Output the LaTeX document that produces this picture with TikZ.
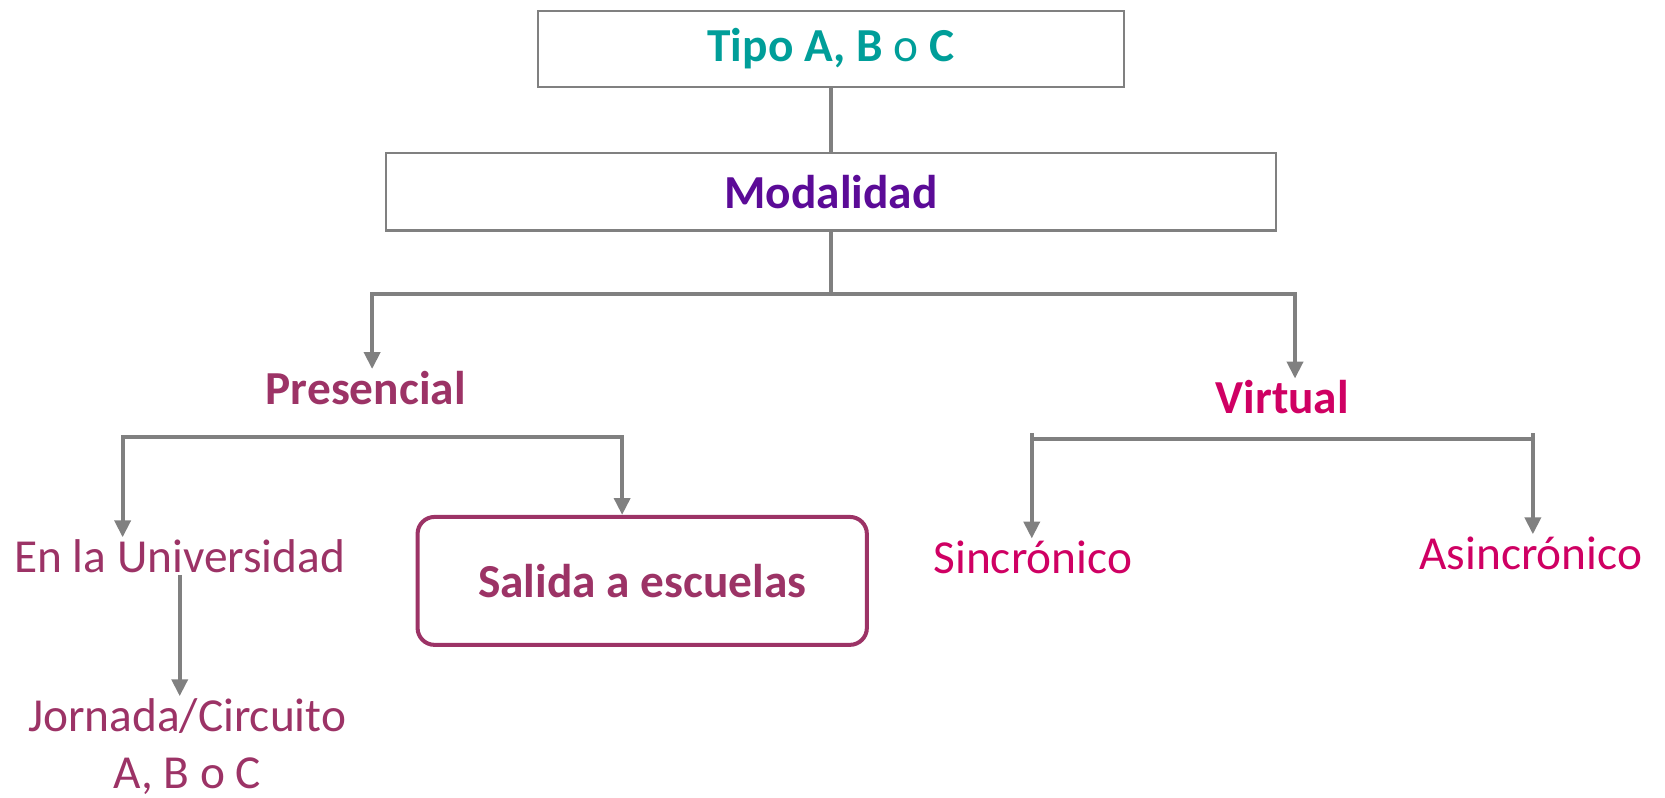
\documentclass[tikz,border=0pt]{standalone}
\usepackage{fontspec}
\setmainfont{Carlito}
\usetikzlibrary{arrows.meta}
\definecolor{verdeTipo}{HTML}{009E99}
\definecolor{moradoMod}{HTML}{5B0B97}
\definecolor{granate}{HTML}{9C3366}
\definecolor{fucsia}{HTML}{CF0063}
\definecolor{grisLinea}{HTML}{808080}
\begin{document}
\begin{tikzpicture}[x=0.5pt, y=-0.5pt]
		\tikzset{caja/.style={draw=grisLinea, line width=1pt, inner sep=0, font=\fontsize{22.4pt}{27pt}\selectfont\bfseries},
		texto/.style={inner sep=0, outer sep=1pt, font=\fontsize{22.4pt}{27pt}\selectfont},
		linea/.style={draw=grisLinea, line width=1.9pt},
		flecha/.style={linea, -{Triangle[width=7.5pt, length=8pt]}}}
        \useasboundingbox (0,0) rectangle (1575,754);

        \node[caja, minimum width=277pt, minimum height=36pt, text=verdeTipo] at (786,46) (tipo) {Tipo A, B \mdseries o \bfseries C};
        \node[caja, minimum width=421pt, minimum height=36.5pt, text=moradoMod] at (786,181.5) (mod) {Modalidad};

        \node[texto, font=\fontsize{22.4pt}{27pt}\selectfont\bfseries, text=granate] at (346,367) (pres) {Presencial};
        \node[texto, font=\fontsize{22.4pt}{27pt}\selectfont\bfseries, text=fucsia] at (1213,376) (virt) {Virtual};

        \node[texto, text=granate] at (170,526) (uni) {En la Universidad};
        \node[texto, text=granate, align=center] at (177,706) (jorn) {Jornada/Circuito\\A, B o C};
        \node[draw=granate, line width=1.9pt, rounded corners=8pt, minimum width=212.5pt, minimum height=60.5pt,
              inner sep=0, text=granate, font=\fontsize{22.4pt}{27pt}\selectfont\bfseries] at (607.5,549.5) (sal) {Salida a escuelas};

        \node[texto, text=fucsia] at (977,527) (sinc) {Sincrónico};
        \node[texto, text=fucsia] at (1448,523) (asinc) {Asincrónico};

        \coordinate (m1) at (786,278);
        \coordinate (pb) at (352,413);
        \coordinate (vi) at (976,415);
        \coordinate (vd) at (1450,415);

			\draw [linea] (tipo) -- (mod);
			\draw [linea] (mod) -- (m1);
			\draw [flecha] (m1) -| ([xshift=3pt]pres.north);
			\draw [flecha] (m1) -| ([xshift=6pt]virt.north);

			% Presencial
			\draw [flecha] (pb) -| ([xshift=-27pt]uni.north);
			\draw [flecha] (pb) -| ([xshift=-9.5pt]sal.north);
			\draw [flecha] (uni.south) -- (uni.south |- jorn.north);

			% Virtual
			\draw [linea] (vi) -- (vd);
			\draw [flecha] ([yshift=2.5pt]vi) -- (vi |- sinc.north);
			\draw [flecha] ([yshift=2.5pt]vd) -- (vd |- asinc.north);

	\end{tikzpicture}
\end{document}
